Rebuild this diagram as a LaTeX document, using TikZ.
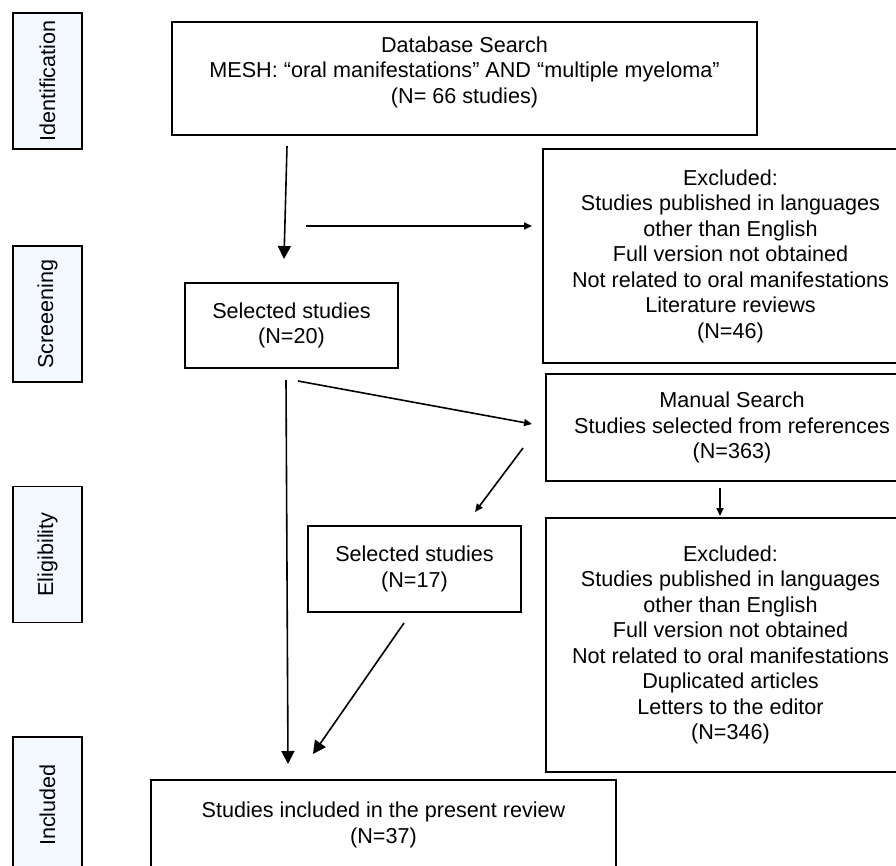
\documentclass[tikz,border=0pt]{standalone}
\usepackage{fontspec}
\setmainfont{Liberation Sans}
\usetikzlibrary{arrows.meta}
\definecolor{phasefill}{HTML}{F4F9FF}

\begin{document}
\begin{tikzpicture}[x=1pt,y=-1pt,line width=1.6pt,
  font=\fontsize{21.6}{25.5}\selectfont,
  box/.style={draw,rectangle,align=center,inner sep=0pt},
  phase/.style={box,fill=phasefill,rotate=90,minimum width=136,minimum height=69},
  bigarrow/.style={-{Triangle[length=13pt,width=13pt]}},
  smallarrow/.style={-{Triangle[length=8pt,width=7pt]}}]
\useasboundingbox (0,0) rectangle (896,866);
\clip (0,0) rectangle (896,866);
% phases
\node[phase] (ident) at (47.5,81) {Identification};
\node[phase] (screen) at (47.5,314) {Screeening};
\node[phase] (elig) at (47.5,554.5) {Eligibility};
\node[phase] (incl) at (47.5,805) {Included};
% boxes
\node[box,minimum width=585,minimum height=113] (db) at (464.5,78.5) {Database Search\\MESH: “oral manifestations” AND “multiple myeloma”\\(N= 66 studies)\\[-8pt]};
\node[box,minimum width=375,minimum height=214] (excla) at (730.5,256) {Excluded:\\Studies published in languages\\other than English\\Full version not obtained\\Not related to oral manifestations\\Literature reviews\\(N=46)};
\node[box,minimum width=213,minimum height=85] (sela) at (291.5,325.5) {Selected studies\\(N=20)};
\node[box,minimum width=372,minimum height=107] (manual) at (732,427.5) {Manual Search\\Studies selected from references\\(N=363)};
\node[box,minimum width=213,minimum height=86] (selb) at (414.5,569) {Selected studies\\(N=17)};
\node[box,minimum width=369,minimum height=254] (exclb) at (730.5,645) {Excluded:\\Studies published in languages\\other than English\\Full version not obtained\\Not related to oral manifestations\\Duplicated articles\\Letters to the editor\\(N=346)};
\node[box,minimum width=465,minimum height=90] (final) at (383.5,825) {Studies included in the present review\\(N=37)};
% arrow ends
\coordinate (dbout) at (287,146);
\coordinate (selain) at (284,259);
\coordinate (hout) at (306,226);
\coordinate (exclain) at (532,226);
\coordinate (selaout) at (286,380);
\coordinate (finalin) at (288,764);
\coordinate (diagout) at (298,381);
\coordinate (manualin) at (532,424);
\coordinate (manualout) at (523,448);
\coordinate (selbin) at (475,512);
\coordinate (manualdown) at (720,488);
\coordinate (exclbin) at (720,516);
\coordinate (selbout) at (404,623);
\coordinate (finalinb) at (313,754);
% arrows
\draw[bigarrow] (dbout) -- (selain);
\draw[smallarrow] (hout) -- (exclain);
\draw[bigarrow] (selaout) -- (finalin);
\draw[smallarrow] (diagout) -- (manualin);
\draw[smallarrow] (manualout) -- (selbin);
\draw[smallarrow] (manualdown) -- (exclbin);
\draw[bigarrow] (selbout) -- (finalinb);
\end{tikzpicture}
\end{document}
